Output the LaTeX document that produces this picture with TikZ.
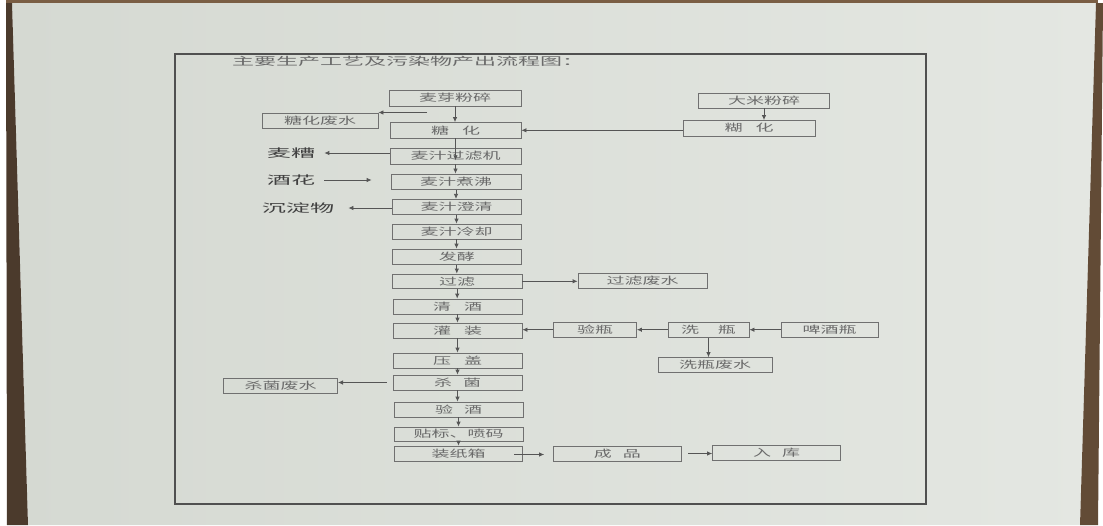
\documentclass[tikz,border=0pt]{standalone}
\usepackage{fontspec}
\usetikzlibrary{arrows.meta}
\newfontfamily\cjkb[FakeStretch=1.8]{Noto Sans CJK SC}
\newfontfamily\cjkl[FakeStretch=2.1]{Noto Sans CJK SC}
\newfontfamily\cjkt[FakeStretch=2.0]{Noto Sans CJK SC}
\definecolor{paperL}{HTML}{D5D9D2}
\definecolor{paperR}{HTML}{E4E7E2}
\definecolor{brownA}{HTML}{4B3A2C}
\definecolor{brownB}{HTML}{7A5E44}
\definecolor{framec}{HTML}{505050}
\definecolor{boxc}{HTML}{707070}
\definecolor{linec}{HTML}{555555}
\definecolor{txtc}{HTML}{6A6A6A}
\definecolor{lblc}{HTML}{404040}
\newcommand\gp{\hspace{13pt}}
\newcommand\bx[6]{\node[box,minimum width=#4pt,minimum height=#5pt] (#1) at (#2,#3) {#6};}
\begin{document}
\begin{tikzpicture}[x=1pt,y=-1pt,
  box/.style={draw=boxc,line width=0.8pt,inner sep=0pt,text=txtc,font={\cjkb\fontsize{10}{12}\selectfont}},
  lbl/.style={inner sep=0pt,text=lblc,font={\cjkl\fontsize{11.5}{13}\selectfont}},
  arr/.style={draw=linec,line width=0.8pt,-{Latex[length=5pt,width=4.5pt]}},
  ln/.style={draw=linec,line width=0.8pt}]
\useasboundingbox (0,0) rectangle (1103,525);
% paper and photo edges
\fill[white] (0,0) rectangle (1103,525);
\shade[left color=paperL,right color=paperR] (12,3) -- (1096,3) -- (1080,525) -- (28,525) -- cycle;
\fill[brownA] (6,0) -- (12,3) -- (28,525) -- (7,525) -- cycle;
\fill[brownB] (6,0) rectangle (1098,3);
\fill[brownB!80!black] (1096,3) -- (1103,3) -- (1098,525) -- (1080,525) -- cycle;
% frame
\draw[framec,line width=1.2pt] (175,54) rectangle (926,504);
\node[inner sep=0pt,anchor=west,text=txtc,font={\cjkt\fontsize{11}{13}\selectfont}] (title) at (232,61) {主要生产工艺及污染物产出流程图：};
% main column
\bx{m1}{455}{98}{132}{16}{麦芽粉碎}
\bx{m2}{455.5}{130.3}{131}{15.5}{糖\gp 化}
\bx{m3}{455.5}{156}{131}{16}{麦汁过滤机}
\bx{m4}{456}{181.7}{130}{15.5}{麦汁煮沸}
\bx{m5}{456.5}{206.8}{129}{15}{麦汁澄清}
\bx{m6}{456.5}{231.5}{129}{15}{麦汁冷却}
\bx{m7}{456.8}{256.8}{129}{15.5}{发酵}
\bx{m8}{457.2}{281.3}{129.5}{14.6}{过滤}
\bx{m9}{457.5}{306.5}{129}{15}{清\gp 酒}
\bx{m10}{457.5}{330.5}{129}{15}{灌\gp 装}
\bx{m11}{457.5}{360.5}{129}{15}{压\gp 盖}
\bx{m12}{457.5}{382.5}{129}{15}{杀\hspace{11pt}菌}
\bx{m13}{458.5}{409.5}{129}{15}{验\hspace{11pt}酒}
\bx{m14}{458.5}{434}{129}{14}{贴标、喷码}
\bx{m15}{458.6}{453.5}{128}{15}{装纸箱}
% side boxes
\bx{r1}{764}{100.5}{131.5}{15}{大米粉碎}
\bx{r2}{749}{128.2}{132}{15.5}{糊\gp 化}
\bx{w1}{320}{120.8}{116}{15.6}{糖化废水}
\bx{f1}{642.5}{280.5}{129}{15}{过滤废水}
\bx{b1}{595}{329.7}{83}{15.5}{验瓶}
\bx{b2}{708.5}{329.7}{81}{15.5}{洗\hspace{19pt}瓶}
\bx{b3}{829.5}{329.7}{97}{15.5}{啤酒瓶}
\bx{b4}{715}{364.8}{114}{14.4}{洗瓶废水}
\bx{s1}{280.6}{385.5}{114}{15}{杀菌废水}
\bx{p1}{617.3}{453.5}{127.4}{15}{成\hspace{11pt}品}
\bx{p2}{776.6}{452.5}{128}{15}{入\hspace{11pt}库}
% free labels
\node[lbl] (l1) at (291,153) {麦糟};
\node[lbl] (l2) at (291,180) {酒花};
\node[lbl] (l3) at (298,208) {沉淀物};
\coordinate (c1) at (427,112.5);
% connectors
\draw[arr] (m1.south) -- (m1.south |- m2.north);
\draw[arr] (c1) -- (c1 -| w1.east);
\draw[arr] (r1.south) -- (r1.south |- r2.north);
\draw[arr] (m2.east -| r2.west) -- (m2.east);
\draw[arr] (m2.south) -- ([yshift=4pt]m2.south |- m3.south);
\draw[arr] (m3.west |- l1.east) -- ([xshift=9pt]l1.east);
\draw[arr] (m3.south) -- (m3.south |- m4.north);
\draw[arr] ([xshift=9pt]l2.east) -- ([xshift=-19pt]m4.west |- l2.east);
\draw[arr] (m4.south) -- (m4.south |- m5.north);
\draw[arr] (m5.west |- l3.east) -- ([xshift=14pt]l3.east);
\draw[arr] (m5.south) -- (m5.south |- m6.north);
\draw[arr] (m6.south) -- (m6.south |- m7.north);
\draw[arr] (m7.south) -- (m7.south |- m8.north);
\draw[arr] (m8.east) -- (m8.east -| f1.west);
\draw[arr] (m8.south) -- (m8.south |- m9.north);
\draw[arr] (m9.south) -- (m9.south |- m10.north);
\draw[arr] (b1.west) -- (b1.west -| m10.east);
\draw[arr] (b2.west) -- (b2.west -| b1.east);
\draw[arr] (b3.west) -- (b3.west -| b2.east);
\draw[arr] (b2.south) -- (b2.south |- b4.north);
\draw[arr] (m10.south) -- (m10.south |- m11.north);
\draw[arr] (m11.south) -- (m11.south |- m12.north);
\draw[arr] ([xshift=-6pt]m12.west) -- (m12.west -| s1.east);
\draw[arr] (m12.south) -- (m12.south |- m13.north);
\draw[arr] (m13.south) -- (m13.south |- m14.north);
\draw[arr] (m14.south) -- (m14.south |- m15.north);
\draw[arr] ([xshift=-9pt,yshift=-1pt]m15.east) -- ([xshift=-9pt,yshift=-1pt]p1.west);
\draw[arr] ([xshift=7pt]p1.east) -- (p1.east -| p2.west);
\end{tikzpicture}
\end{document}
